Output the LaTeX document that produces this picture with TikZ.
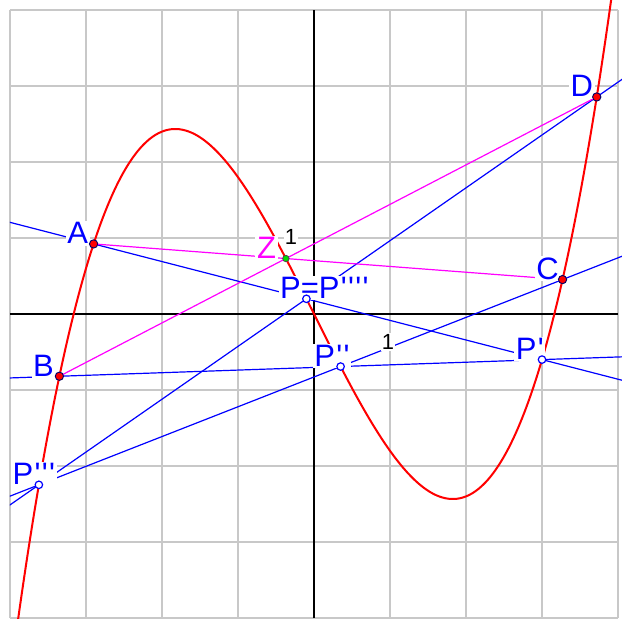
\documentclass[tikz,border=0pt]{standalone}
\usepackage{fontspec}
\usetikzlibrary{positioning, calc}
\newfontfamily\lblfont{Liberation Sans}
\definecolor{gridgray}{RGB}{200,200,200}
\definecolor{lineblue}{RGB}{0,0,255}
\definecolor{curvered}{RGB}{255,0,0}
\definecolor{chordmag}{RGB}{255,0,255}
\definecolor{zgreen}{RGB}{0,220,0}
\newcommand\pr{\kern0.5pt\textquotesingle}

\tikzset{
  gridline/.style={draw=gridgray, line width=0.7pt},
  axisline/.style={draw=black, line width=0.7pt},
  blueline/.style={draw=lineblue, line width=0.45pt},
  chord/.style={draw=chordmag, line width=0.45pt},
  cubic/.style={draw=curvered, line width=0.75pt},
  lbl/.style={fill=white, inner sep=0.6pt, text=lineblue, anchor=base west,
              font=\lblfont\fontsize{11.6}{12}\selectfont},
  unitlbl/.style={fill=white, inner sep=0.4pt, text=black,
                  font=\lblfont\fontsize{8.2}{9}\selectfont},
  fixpt/.style={circle, fill=curvered, draw=lineblue!40!black, line width=0.35pt,
                inner sep=0pt, minimum size=3.1pt},
  zpt/.style={circle, fill=zgreen, draw=black!70, line width=0.3pt,
              inner sep=0pt, minimum size=2.4pt},
  movpt/.style={circle, fill=white, draw=lineblue, line width=0.45pt,
                inner sep=0pt, minimum size=2.8pt}
}

\begin{document}
\begin{tikzpicture}[x=1cm, y=1cm]
  \useasboundingbox[fill=white] (-4.1316,-4) rectangle (4.0526,4.1316);

  % points on y = x^3/5 - 2x
  \coordinate (A)  at (-2.9, 0.9222);
  \coordinate (B)  at (-3.35, -0.8190);
  \coordinate (C)  at (3.27, 0.4530);
  \coordinate (D)  at (3.72, 2.8559);
  \coordinate (Z)  at (-0.37, 0.7299);
  \coordinate (P)  at (-0.1, 0.1998);
  \coordinate (P1) at (3.0, -0.6);
  \coordinate (P2) at (0.35, -0.6914);
  \coordinate (P3) at (-3.62, -2.2476);

  \draw[gridline] (-4,-4) grid (4,4);
  \draw[axisline] (-4,0) -- (4,0);
  \draw[axisline] (0,-4) -- (0,4);

  \begin{scope}
    \clip (-4,-4) rectangle (4.0526,4.1316);
    % free ends of the blue lines
    \coordinate (a0) at ($(A)!-2!(P1)$);
    \coordinate (a1) at ($(A)!3!(P1)$);
    \coordinate (b0) at ($(B)!-2!(P1)$);
    \coordinate (b1) at ($(B)!3!(P1)$);
    \coordinate (c0) at ($(C)!-2!(P3)$);
    \coordinate (c1) at ($(C)!3!(P3)$);
    \coordinate (d0) at ($(D)!-2!(P3)$);
    \coordinate (d1) at ($(D)!3!(P3)$);
    \draw[blueline] (a0) -- (A) -- (P) -- (P1) -- (a1);
    \draw[blueline] (b0) -- (P1) -- (P2) -- (B) -- (b1);
    \draw[blueline] (c0) -- (C) -- (P2) -- (P3) -- (c1);
    \draw[blueline] (d0) -- (D) -- (P) -- (P3) -- (d1);
    \draw[chord] (A) -- (C);
    \draw[chord] (B) -- (D);
    \draw[cubic] plot[domain=-3.95:3.95, samples=200, smooth]
      (\x, {0.2*\x*\x*\x - 2*\x});
  \end{scope}

  % labels
  \node[lbl] (tA)  at ([xshift=-10.6pt]A)  {A};
  \node[lbl] (tB)  at ([xshift=-10.6pt]B)  {B};
  \node[lbl] (tC)  at ([xshift=-10.6pt]C)  {C};
  \node[lbl] (tD)  at ([xshift=-10.6pt]D)  {D};
  \node[lbl, text=chordmag] (tZ) at ([xshift=-11.6pt]Z) {Z};
  \node[lbl] (tP)  at ([xshift=-10.6pt]P)  {P=P\pr\pr\pr\pr};
  \node[lbl] (tP1) at ([xshift=-10.6pt]P1) {P\pr};
  \node[lbl] (tP2) at ([xshift=-10.6pt]P2) {P\pr\pr};
  \node[lbl] (tP3) at ([xshift=-10.6pt]P3) {P\pr\pr\pr};
  \node[unitlbl] (ty) at (-0.303, 1.013) {1};
  \node[unitlbl] (tx) at (0.974, -0.368) {1};

  % points
  \node[fixpt] (dA) at (A) {};
  \node[fixpt] (dB) at (B) {};
  \node[fixpt] (dC) at (C) {};
  \node[fixpt] (dD) at (D) {};
  \node[zpt]   (dZ) at (Z) {};
  \node[movpt] (dP)  at (P)  {};
  \node[movpt] (dP1) at (P1) {};
  \node[movpt] (dP2) at (P2) {};
  \node[movpt] (dP3) at (P3) {};
\end{tikzpicture}
\end{document}
